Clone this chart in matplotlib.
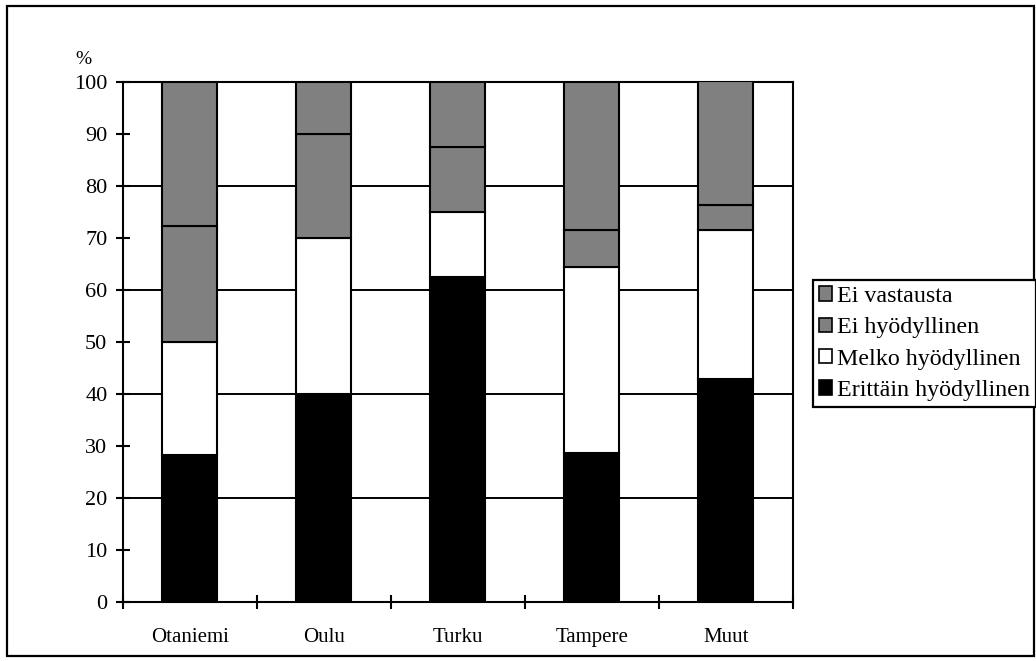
import matplotlib
matplotlib.use("Agg")
import matplotlib.pyplot as plt
from matplotlib.patches import Patch, Rectangle
import numpy as np

categories = ["Otaniemi", "Oulu", "Turku", "Tampere", "Muut"]
series_names = ["Erittäin hyödyllinen", "Melko hyödyllinen", "Ei hyödyllinen", "Ei vastausta"]
erittain = [28.3, 40.0, 62.5, 28.6, 42.9]
melko = [21.7, 30.0, 12.5, 35.7, 28.6]
ei_hyod = [22.3, 20.0, 12.5, 7.1, 4.8]
ei_vast = [27.7, 10.0, 12.5, 28.6, 23.8]
series_values = [erittain, melko, ei_hyod, ei_vast]
colors = ["#000000", "#ffffff", "#808080", "#808080"]
yticks = list(range(0, 101, 10))

plt.rcParams['font.family'] = ['Liberation Serif', 'DejaVu Serif']
plt.rcParams['font.size'] = 15

W, H = 1036, 661
fig = plt.figure(figsize=(W / 100, H / 100), dpi=100)
fig.patch.set_facecolor("white")

left, right, top, bottom = 122.7, 793.0, 81.7, 601.7
ax = fig.add_axes([left / W, 1 - bottom / H, (right - left) / W, (bottom - top) / H])

x = np.arange(len(categories))
base = np.zeros(len(categories))
for name, vals, col in zip(series_names, series_values, colors):
    ax.bar(x, vals, width=0.41, bottom=base, color=col, edgecolor="black",
           linewidth=1.5, zorder=3, label=name)
    base += np.array(vals)

ax.set_xlim(-0.5, len(categories) - 0.5)
ax.set_ylim(0, 100)
ax.set_yticks(yticks)
ax.set_yticklabels([str(v) for v in yticks], fontsize=16)
ax.set_xticks(x)
ax.set_xticklabels(categories, fontsize=15)
ax.set_xticks(np.arange(-0.5, len(categories), 1.0), minor=True)
ax.tick_params(axis='x', which='major', length=0, pad=19)
ax.tick_params(axis='x', which='minor', direction='inout', length=10.5, width=1.5)
ax.tick_params(axis='y', which='major', direction='inout', length=10, width=1.5, pad=6)

for g in [20, 40, 60, 80]:
    ax.axhline(g, color="black", linewidth=1.4, zorder=1)

for s in ax.spines.values():
    s.set_color("black")
    s.set_linewidth(1.5)

fig.text(83 / W, 1 - 59 / H, "%", ha="center", va="center", fontsize=14)

handles = [Patch(facecolor=c, edgecolor="black", linewidth=1.2) for c in colors]
leg = fig.legend(handles[::-1], series_names[::-1], loc="upper left",
                 bbox_to_anchor=(813 / W, 1 - 280 / H), bbox_transform=fig.transFigure,
                 frameon=True, fancybox=False, edgecolor="black", framealpha=1,
                 borderpad=0.25, handlelength=0.55, handleheight=0.55,
                 handletextpad=0.2, labelspacing=0.43, borderaxespad=0,
                 fontsize=17.3)
leg.get_frame().set_linewidth(1.6)

fig.patches.append(Rectangle((7 / W, 1 - 656 / H), (1034 - 7) / W, (656 - 6) / H,
                             transform=fig.transFigure, fill=False,
                             edgecolor="black", linewidth=1.6))

fig.savefig("out.png", dpi=100, facecolor="white")
